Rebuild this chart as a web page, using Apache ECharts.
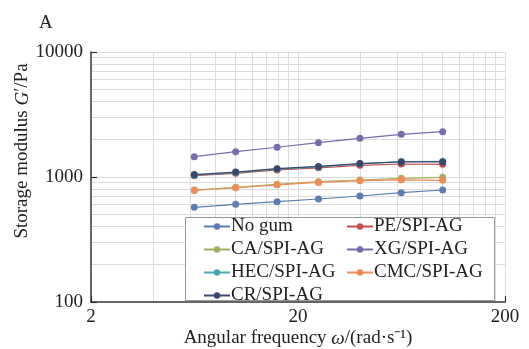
<!DOCTYPE html>
<html>
<head>
<meta charset="utf-8">
<script src="https://cdn.jsdelivr.net/npm/echarts@6/dist/echarts.min.js"></script>
<style>html,body{margin:0;padding:0;background:#fff}#c{width:529px;height:349px}</style>
</head>
<body>
<div id="c"></div>
<script>
// ---- data ----
var freq = [6.31, 10, 15.85, 25.12, 39.81, 63.1, 100];
var seriesNames = ['No gum', 'PE/SPI-AG', 'CA/SPI-AG', 'XG/SPI-AG', 'HEC/SPI-AG', 'CMC/SPI-AG', 'CR/SPI-AG'];
var noGum = [572, 605, 635, 667, 705, 749, 787];
var pe    = [1025, 1070, 1140, 1185, 1240, 1270, 1262];
var ca    = [787, 827, 874, 917, 946, 976, 994];
var xg    = [1453, 1594, 1729, 1881, 2040, 2196, 2304];
var hec   = [1035, 1085, 1155, 1205, 1275, 1330, 1335];
var cmc   = [780, 820, 866, 905, 935, 950, 940];
var cr    = [1045, 1095, 1165, 1215, 1280, 1320, 1320];
var xTickLabels = [2, 20, 200];
var yTickLabels = [100, 1000, 10000];
var xGrid = [4, 6, 8, 10, 12, 14, 16, 18, 20, 40, 60, 80, 100, 120, 140, 160, 180, 200];
var yGrid = [200, 300, 400, 500, 600, 700, 800, 900, 1000, 2000, 3000, 4000, 5000, 6000, 7000, 8000, 9000, 10000];

var colors = ['#5b7fb5', '#c0504d', '#a4ad5e', '#7a6aae', '#47a9ad', '#f08c55', '#39466e'];
var allValues = [noGum, pe, ca, xg, hec, cmc, cr];

var FONT = 'Liberation Serif';
var TXT = '#222';
function plain(v) { return String(Math.round(v)); }

var series = seriesNames.map(function (name, i) {
  return {
    name: name,
    type: 'line',
    xAxisIndex: 0,
    yAxisIndex: 0,
    symbol: 'circle',
    symbolSize: 7,
    z: 5,
    itemStyle: { color: colors[i] },
    lineStyle: { width: 1.2, color: colors[i] },
    data: freq.map(function (f, k) { return [f, allValues[i][k]]; })
  };
});

var chart = echarts.init(document.getElementById('c'), null, { renderer: 'canvas' });
chart.setOption({
  animation: false,
  backgroundColor: '#fff',
  textStyle: { fontFamily: FONT, color: TXT },
  title: { text: 'A', left: 34, top: 9, textStyle: { fontFamily: FONT, fontSize: 19, fontWeight: 'normal', color: TXT } },
  grid: { left: 91, right: 24, top: 52, bottom: 47, containLabel: false, outerBoundsMode: 'none' },
  xAxis: [{
    type: 'log', logBase: 10, min: 2, max: 200, position: 'bottom',
    axisLine: { lineStyle: { color: '#333', width: 1.5 } },
    axisTick: { inside: true, length: 6, customValues: xTickLabels, lineStyle: { color: '#333', width: 1.2 } },
    axisLabel: { customValues: xTickLabels, formatter: plain, fontFamily: FONT, fontSize: 19, color: TXT, margin: 6 },
    splitLine: { show: false },
    name: '{n|Angular frequency }{i|ω}{n|/(rad·s⁻¹)}',
    nameLocation: 'middle', nameGap: 27, nameMoveOverlap: false,
    nameTextStyle: { rich: { n: { fontFamily: FONT, fontSize: 19, color: TXT }, i: { fontFamily: FONT, fontSize: 19, fontStyle: 'italic', color: TXT } } }
  }, {
    type: 'log', logBase: 10, min: 2, max: 200, position: 'bottom',
    axisLine: { show: false },
    axisTick: { show: false, customValues: xGrid },
    axisLabel: { show: false },
    splitLine: { show: true, lineStyle: { color: '#dcdcdc', width: 1 } }
  }],
  yAxis: [{
    type: 'log', logBase: 10, min: 100, max: 10000, position: 'left',
    axisLine: { show: true, lineStyle: { color: '#333', width: 1.5 } },
    axisTick: { show: true, inside: true, length: 6, customValues: yTickLabels, lineStyle: { color: '#333', width: 1.2 } },
    axisLabel: { customValues: yTickLabels, formatter: plain, fontFamily: FONT, fontSize: 19, color: TXT, margin: 8 },
    splitLine: { show: false },
    name: '{n|Storage modulus }{i|G}{n|′/Pa}',
    nameLocation: 'middle', nameGap: 59, nameMoveOverlap: false,
    nameTextStyle: { padding: [0, 0, 0, 52], rich: { n: { fontFamily: FONT, fontSize: 19, color: TXT }, i: { fontFamily: FONT, fontSize: 19, fontStyle: 'italic', color: TXT } } }
  }, {
    type: 'log', logBase: 10, min: 100, max: 10000, position: 'left',
    axisLine: { show: false },
    axisTick: { show: false, customValues: yGrid },
    axisLabel: { show: false },
    splitLine: { show: true, lineStyle: { color: '#dcdcdc', width: 1 } }
  }],
  graphic: [{
    type: 'rect', z: 3, left: 185, top: 217,
    shape: { width: 309, height: 83 },
    style: { fill: '#fff', stroke: '#999', lineWidth: 1 }
  }],
  legend: [{
    data: [seriesNames[0], seriesNames[2], seriesNames[4], seriesNames[6]],
    orient: 'vertical', left: 203, top: 217, padding: 0, itemGap: 4, z: 6,
    itemWidth: 26, itemHeight: 8,
    textStyle: { fontFamily: FONT, fontSize: 19, color: TXT, lineHeight: 18, padding: [0, 0, 0, -4] }
  }, {
    data: [seriesNames[1], seriesNames[3], seriesNames[5]],
    orient: 'vertical', left: 346, top: 217, padding: 0, itemGap: 4, z: 6,
    itemWidth: 26, itemHeight: 8,
    textStyle: { fontFamily: FONT, fontSize: 19, color: TXT, lineHeight: 18, padding: [0, 0, 0, -4] }
  }],
  series: series
});
</script>
</body>
</html>
